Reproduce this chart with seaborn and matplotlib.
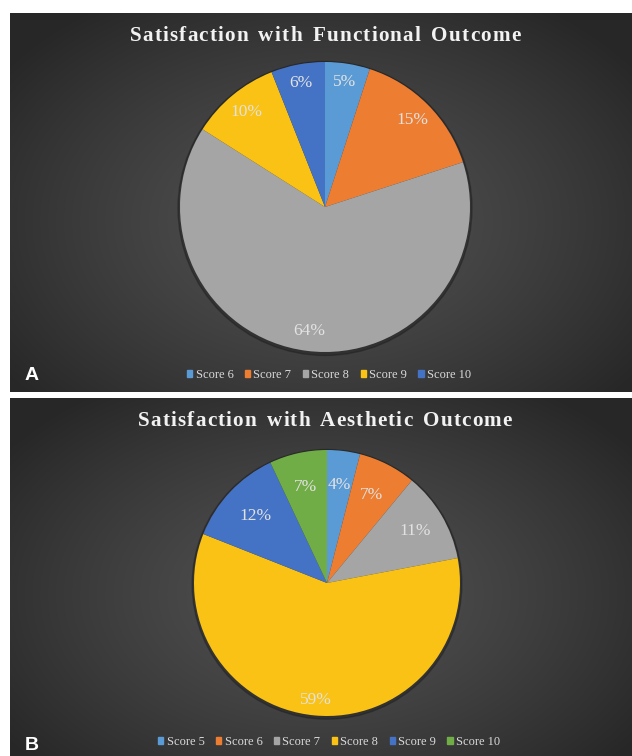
import numpy as np
import matplotlib
matplotlib.use("Agg")
import matplotlib.pyplot as plt
import seaborn as sns
from matplotlib.font_manager import FontProperties

# data
func_labels = ["Score 6", "Score 7", "Score 8", "Score 9", "Score 10"]
func_values = [5, 15, 64, 10, 6]
aes_labels = ["Score 5", "Score 6", "Score 7", "Score 8", "Score 9", "Score 10"]
aes_values = [4, 7, 11, 59, 12, 7]

func_colors = ["#5B9BD5", "#ED7D31", "#A5A5A5", "#F9C214", "#4472C4"]
aes_colors = ["#5B9BD5", "#ED7D31", "#A5A5A5", "#F9C214", "#4472C4", "#70AD47"]

# radial position of the percent labels (fraction of radius), per slice
func_label_r = [0.87, 0.85, 0.86, 0.85, 0.87]
aes_label_r = [0.74, 0.74, 0.77, 0.88, 0.74, 0.74]

sns.set_theme(style="white")
plt.rcParams["font.family"] = ["Liberation Serif", "DejaVu Serif"]

W, H = 632, 756
fig = plt.figure(figsize=(W / 100, H / 100), dpi=100, facecolor="white")
renderer = fig.canvas.get_renderer()


def px_axes(x0, y0, x1, y1):
    # pixel box (top-left origin) -> figure axes
    return fig.add_axes([x0 / W, 1 - y1 / H, (x1 - x0) / W, (y1 - y0) / H])


def background(x0, y0, x1, y1, cy=0.55):
    ax = px_axes(x0, y0, x1, y1)
    w, h = int(x1 - x0), int(y1 - y0)
    xx, yy = np.meshgrid(np.linspace(-1, 1, w), np.linspace(-1, 1, h))
    d = np.sqrt(xx ** 2 + ((yy - (cy * 2 - 1)) * 0.9) ** 2)
    d = np.clip(d / 1.25, 0, 1)
    shade = 0.32 - 0.165 * d ** 1.3
    img = np.dstack([shade, shade, shade])
    ax.imshow(img, aspect="auto", extent=[0, 1, 0, 1], interpolation="bilinear")
    ax.set_xlim(0, 1)
    ax.set_ylim(0, 1)
    ax.axis("off")
    return ax


def draw_pie(box, values, colors, label_r):
    ax = px_axes(*box)
    ax.add_patch(plt.Circle((0, -0.01), 1.014, color="#151515", alpha=0.35,
                            zorder=0, clip_on=False))
    wedges, texts, autotexts = ax.pie(
        values, colors=colors, startangle=90, counterclock=False,
        autopct=lambda p: f"{p:.0f}%", radius=1,
        wedgeprops=dict(linewidth=0, zorder=1),
        textprops=dict(color="#e2e2e2", fontsize=12.5))
    for w, t, r in zip(wedges, autotexts, label_r):
        ang = np.deg2rad((w.theta1 + w.theta2) / 2)
        t.set_position((r * np.cos(ang), r * np.sin(ang)))
    ax.set_xlim(-1, 1)
    ax.set_ylim(-1, 1)
    ax.set_aspect("auto")
    ax.axis("off")
    return ax


def spaced_title(s, cx, cy, track=1.2, space_extra=3, size=15.2):
    # letter-spaced bold serif title, centred at pixel (cx, cy)
    prop = FontProperties(family="Liberation Serif", weight="bold", size=size)

    def width(txt):
        return renderer.get_text_width_height_descent(txt, prop, ismath=False)[0]

    def offset(i):
        return i * track + s[:i].count(" ") * space_extra

    total = width(s) + offset(len(s) - 1)
    x0 = cx - total / 2
    for i, ch in enumerate(s):
        if ch == " ":
            continue
        x = x0 + width(s[:i + 1]) - width(ch) + offset(i)
        fig.text(x / W, 1 - cy / H, ch, fontproperties=prop, color="#f2f2f2",
                 ha="left", va="center")


def draw_legend(ax_bg, labels, colors, y):
    handles = [plt.Rectangle((0, 0), 1, 1, color=c) for c in colors]
    ax_bg.legend(handles, labels, loc="center", bbox_to_anchor=(0.513, y),
                 ncol=len(labels), frameon=False, fontsize=9, handlelength=0.42,
                 handleheight=0.42, handletextpad=0.28, columnspacing=0.9,
                 labelcolor="#d9d9d9")


# panel A
bgA = background(10, 13, 632, 392)
draw_pie((180, 62, 470, 352), func_values, func_colors, func_label_r)
spaced_title("Satisfaction with Functional Outcome", 325, 36)
draw_legend(bgA, func_labels, func_colors, 1 - (375 - 13) / 379)
bgA.text((32 - 10) / 622, 1 - (375 - 13) / 379, "A", ha="center", va="center",
         color="white", fontsize=14, fontweight="bold", family=["Liberation Sans"])

# panel B
bgB = background(10, 398, 632, 756)
draw_pie((194, 450, 460, 716), aes_values, aes_colors, aes_label_r)
spaced_title("Satisfaction with Aesthetic Outcome", 325, 421)
draw_legend(bgB, aes_labels, aes_colors, 1 - (742 - 398) / 358)
bgB.text((32 - 10) / 622, 1 - (745 - 398) / 358, "B", ha="center", va="center",
         color="white", fontsize=14, fontweight="bold", family=["Liberation Sans"])

fig.savefig("out.png", dpi=100, facecolor="white")
